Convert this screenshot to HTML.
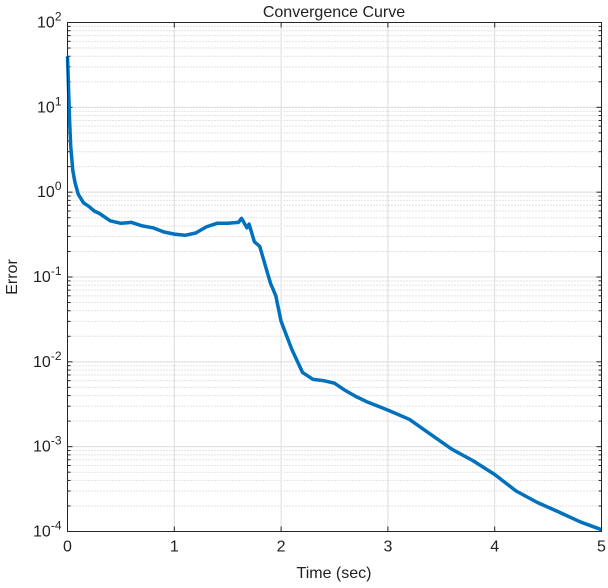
<!DOCTYPE html>
<html><head><meta charset="utf-8"><style>
body{margin:0;background:#fff;}
svg text{font-family:"Liberation Sans","Noto Sans CJK JP",sans-serif;fill:#222;}
</style></head><body>
<svg id="chart" width="608" height="583" xmlns="http://www.w3.org/2000/svg">
<rect width="608" height="583" fill="#fff"/>
<g id="grid"></g>
<g id="ticks"></g>
<path id="curve" fill="none" stroke="#0072BD" stroke-width="3.5" stroke-linejoin="round"/>
<rect x="67.5" y="22.5" width="534" height="509" fill="none" stroke="#262626" stroke-width="1"/>
<text x="334" y="17" font-size="16" text-anchor="middle">Convergence Curve</text>
<text x="334" y="578" font-size="16" text-anchor="middle">Time (sec)</text>
<text x="17" y="277" font-size="16" text-anchor="middle" transform="rotate(-90 17 277)">Error</text>
</svg>
<script>
const times=[0,0.01,0.02,0.03,0.05,0.07,0.1,0.15,0.2,0.25,0.3,0.4,0.5,0.6,0.7,0.8,0.9,1.0,1.1,1.2,1.3,1.4,1.5,1.6,1.63,1.68,1.7,1.75,1.8,1.9,1.95,2.0,2.1,2.2,2.3,2.4,2.5,2.6,2.7,2.8,3.0,3.2,3.4,3.6,3.8,4.0,4.2,4.4,4.6,4.8,5.0];
const errors=[40,16,7,3.5,1.8,1.3,0.95,0.75,0.68,0.6,0.56,0.46,0.43,0.44,0.40,0.38,0.34,0.32,0.31,0.33,0.39,0.43,0.43,0.44,0.49,0.38,0.42,0.26,0.23,0.085,0.06,0.03,0.014,0.0075,0.0062,0.006,0.0056,0.0046,0.0039,0.0034,0.0027,0.0021,0.0014,0.00093,0.00068,0.00047,0.0003,0.00022,0.00017,0.00013,0.000105];
const xTicks=[0,1,2,3,4,5];
const yExps=[2,1,0,-1,-2,-3,-4];
const X0=67.5,X1=601.5,Y0=22.5,Y1=531.5;
function xs(t){return X0+(t-0)/(5-0)*(X1-X0);}
function ys(v){return Y0+(2-Math.log10(v))/6*(Y1-Y0);}
const NS="http://www.w3.org/2000/svg";
const grid=document.getElementById('grid'),ticks=document.getElementById('ticks'),svg=document.getElementById('chart');
function ln(p,x1,y1,x2,y2,c,d,name){const l=document.createElementNS(NS,'line');
l.setAttribute('x1',x1);l.setAttribute('y1',y1);l.setAttribute('x2',x2);l.setAttribute('y2',y2);
l.setAttribute('stroke',c);l.setAttribute('stroke-width',1);if(d)l.setAttribute('stroke-dasharray',d);


p.appendChild(l);}
for(let e=-4;e<2;e++){for(let m=2;m<=9;m++){const y=ys(m*Math.pow(10,e));ln(grid,X0,y,X1,y,'#c8c8c8','1 2','minor-gridline');ln(ticks,X0,y,X0+3,y,'#262626',null,'minor-tick');ln(ticks,X1,y,X1-3,y,'#262626',null,'minor-tick');}}
yExps.forEach(e=>{const y=ys(Math.pow(10,e));ln(grid,X0,y,X1,y,'#dcdcdc',null,'y-gridline');ln(ticks,X0,y,X0+5,y,'#262626',null,'y-tick');ln(ticks,X1,y,X1-5,y,'#262626',null,'y-tick');
const t=document.createElementNS(NS,'text');t.setAttribute('x',X0-6);t.setAttribute('y',y+5);t.setAttribute('font-size','16');t.setAttribute('text-anchor','end');
t.innerHTML='10<tspan dy="-7" font-size="12">'+e+'</tspan>';


svg.appendChild(t);});
xTicks.forEach(v=>{const x=xs(v);ln(grid,x,Y0,x,Y1,'#dcdcdc',null,'x-gridline');ln(ticks,x,Y1,x,Y1-5,'#262626',null,'x-tick');ln(ticks,x,Y0,x,Y0+5,'#262626',null,'x-tick');
const t=document.createElementNS(NS,'text');t.setAttribute('x',x);t.setAttribute('y',Y1+20);t.setAttribute('font-size','16');t.setAttribute('text-anchor','middle');t.textContent=v;


svg.appendChild(t);});
document.getElementById('curve').setAttribute('d',times.map((t,i)=>(i?'L':'M')+xs(t).toFixed(1)+' '+ys(errors[i]).toFixed(1)).join(' '));
</script>
</body></html>
